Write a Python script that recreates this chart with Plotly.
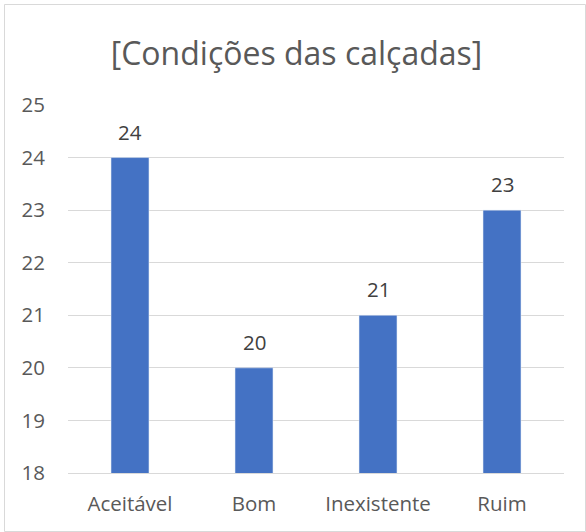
import plotly.graph_objects as go

categories = ["Aceitável", "Bom", "Inexistente", "Ruim"]
values = [24, 20, 21, 23]
y_ticks = [18, 19, 20, 21, 22, 23, 24, 25]

W, H = 586, 532
ml, mr, mt, mb = 68, 22, 105, 59
pw, ph = W - ml - mr, H - mt - mb

fig = go.Figure(go.Bar(
    x=categories, y=values, marker_color="#4472C4",
))
fig.update_layout(
    width=W, height=H,
    margin=dict(l=ml, r=mr, t=mt, b=mb),
    paper_bgcolor="white", plot_bgcolor="white",
    font=dict(family="Open Sans, Liberation Sans, sans-serif", color="#595959"),
    title=dict(text="[Condições das calçadas]", x=296.5 / W, xanchor="center",
               y=1 - 54 / H, yanchor="middle", yref="container",
               font=dict(size=32, color="#595959")),
    bargap=0.694,
    showlegend=False,
    annotations=[dict(x=c, y=v, xref="x", yref="y", text=str(v),
                      showarrow=False, yanchor="bottom", yshift=10,
                      font=dict(size=20.5, color="#404040"))
                 for c, v in zip(categories, values)],
    shapes=[dict(type="rect", xref="paper", yref="paper",
                 x0=(4.5 - ml) / pw, x1=(585.5 - ml) / pw,
                 y0=-(531.5 - (H - mb)) / ph, y1=((H - mb) - 4.5) / ph,
                 line=dict(color="#D9D9D9", width=1), layer="below")],
)
fig.update_yaxes(range=[18, 25], tickvals=y_ticks, showgrid=True,
                 gridcolor="#D9D9D9", zeroline=False, showline=False,
                 tickfont=dict(size=20.5, color="#595959"),
                 ticks="outside", ticklen=18, tickcolor="rgba(0,0,0,0)")
fig.update_xaxes(showline=True, linecolor="#D9D9D9", ticks="",
                 tickfont=dict(size=20.5, color="#595959"),
                 ticklabelstandoff=12)
fig.write_html("out.html", config={"displayModeBar": False},
               post_script="document.body.style.margin='0';")
